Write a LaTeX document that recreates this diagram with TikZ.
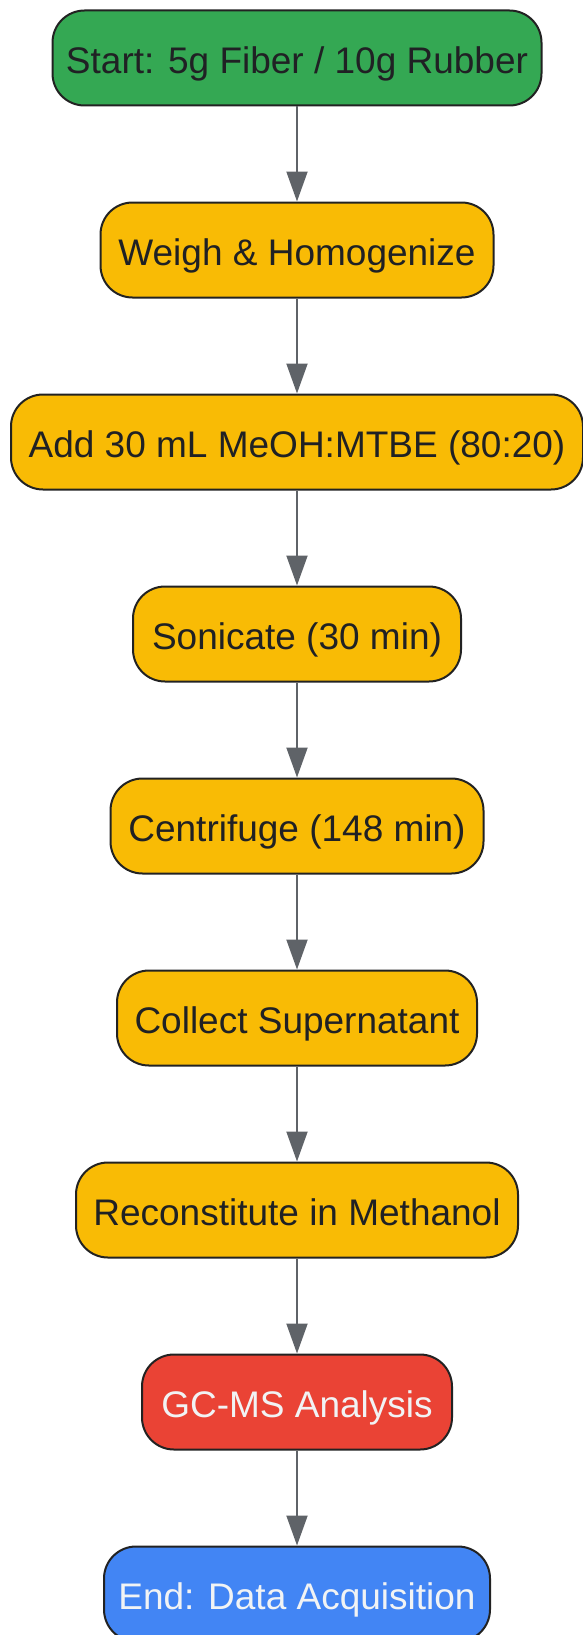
\documentclass[tikz,border=0pt]{standalone}
\usepackage{fontspec}
\setmainfont{Liberation Sans}
\usetikzlibrary{arrows.meta}
\definecolor{cgreen}{HTML}{34A853}
\definecolor{cyellow}{HTML}{F9BB05}
\definecolor{cred}{HTML}{EA4335}
\definecolor{cblue}{HTML}{4285F4}
\definecolor{ctext}{HTML}{202124}
\definecolor{cwhite}{HTML}{F1F3F4}
\definecolor{cedge}{HTML}{5F6368}
\definecolor{cborder}{HTML}{222222}
\begin{document}
\begin{tikzpicture}[x=1pt,y=1pt,
  box/.style={draw=cborder, line width=2pt, rounded corners=32pt, minimum height=95pt,
    inner sep=0pt, text height=31pt, text depth=0pt, font=\fontsize{37}{44}\selectfont, text=ctext},
  startbox/.style={box, fill=cgreen},
  procbox/.style={box, fill=cyellow},
  anbox/.style={box, fill=cred, text=cwhite},
  endbox/.style={box, fill=cblue, text=cwhite},
  flow/.style={draw=cedge, line width=2pt, -{Triangle[length=30pt,width=21pt]}}]
\useasboundingbox (0,0) rectangle (583,-1635);
\node[startbox, minimum width=489pt] (n1) at (297,-58) {Start: 5g Fiber / 10g Rubber};
\node[procbox, minimum width=393pt] (n2) at (297,-250) {Weigh \& Homogenize};
\node[procbox, minimum width=572pt] (n3) at (297,-442) {Add 30 mL MeOH:MTBE (80:20)};
\node[procbox, minimum width=328pt] (n4) at (297,-634) {Sonicate (30 min)};
\node[procbox, minimum width=373pt] (n5) at (297,-826) {Centrifuge (148 min)};
\node[procbox, minimum width=360pt] (n6) at (297,-1018) {Collect Supernatant};
\node[procbox, minimum width=442pt] (n7) at (297,-1210) {Reconstitute in Methanol};
\node[anbox, minimum width=310pt] (n8) at (297,-1402) {GC-MS Analysis};
\node[endbox, minimum width=386pt] (n9) at (297,-1594) {End: Data Acquisition};
\foreach \a/\b in {n1/n2,n2/n3,n3/n4,n4/n5,n5/n6,n6/n7,n7/n8,n8/n9}
  \draw[flow] (\a) -- (\b);
\end{tikzpicture}
\end{document}
